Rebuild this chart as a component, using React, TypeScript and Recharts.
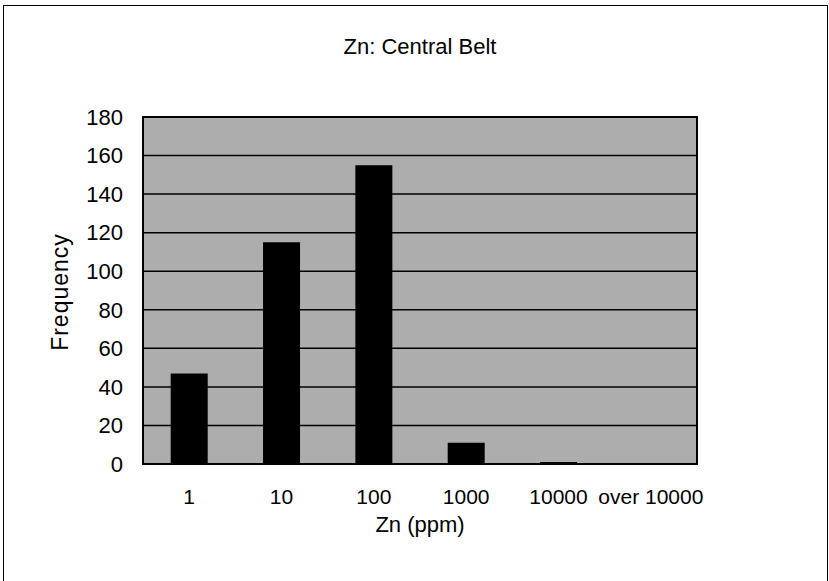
import { BarChart, Bar, XAxis, YAxis, CartesianGrid, ReferenceArea } from "recharts"

// Zn concentration classes and sample counts
const classes = ["1", "10", "100", "1000", "10000", "over 10000"]
const counts = [47, 115, 155, 11, 1, 0]
const yTicks = [0, 20, 40, 60, 80, 100, 120, 140, 160, 180]

const data = classes.map((c, i) => ({ zn: c, freq: counts[i] }))

const font = '"Liberation Sans", Arial, sans-serif'

export default function App() {
  return (
    <div style={{ position: "fixed", left: 0, top: 0, width: 829, height: 581, background: "#fff", fontFamily: font }}>
      {/* outer frame */}
      <div
        style={{
          position: "absolute",
          left: 3,
          top: 5,
          right: 1,
          bottom: -4,
          border: "1px solid #000",
        }}
      />
      <div style={{ position: "absolute", left: 143, width: 554, top: 34, textAlign: "center", fontSize: 22 }}>
        Zn: Central Belt
      </div>
      <div style={{ position: "absolute", left: 143, width: 554, top: 512, textAlign: "center", fontSize: 22 }}>
        Zn (ppm)
      </div>
      <div
        style={{
          position: "absolute",
          left: 60,
          top: 292,
          fontSize: 23,
          letterSpacing: 1,
          whiteSpace: "nowrap",
          transform: "translate(-50%, -50%) rotate(-90deg)",
        }}
      >
        Frequency
      </div>
      <BarChart
        width={829}
        height={581}
        data={data}
        margin={{ top: 117, right: 132, bottom: 87, left: 83 }}
        barCategoryGap="30%"
        style={{ position: "absolute", left: 0, top: 0 }}
      >
        <CartesianGrid vertical={false} stroke="#000" strokeWidth={1.5} fill="#adadad" fillOpacity={1} />
        <XAxis
          dataKey="zn"
          axisLine={false}
          tickLine={false}
          tickMargin={19}
          height={30}
          interval={0}
          tick={{ fontSize: 21, fill: "#000", fontFamily: font }}
        />
        <YAxis
          domain={[0, 180]}
          ticks={yTicks}
          width={60}
          axisLine={false}
          tickLine={false}
          tickMargin={14}
          tick={{ fontSize: 22, fill: "#000", fontFamily: font }}
        />
        <Bar dataKey="freq" fill="#000" isAnimationActive={false} />
        {/* plot area border */}
        <ReferenceArea y1={0} y2={180} fill="none" stroke="#000" strokeWidth={2} ifOverflow="visible" />
      </BarChart>
    </div>
  )
}
